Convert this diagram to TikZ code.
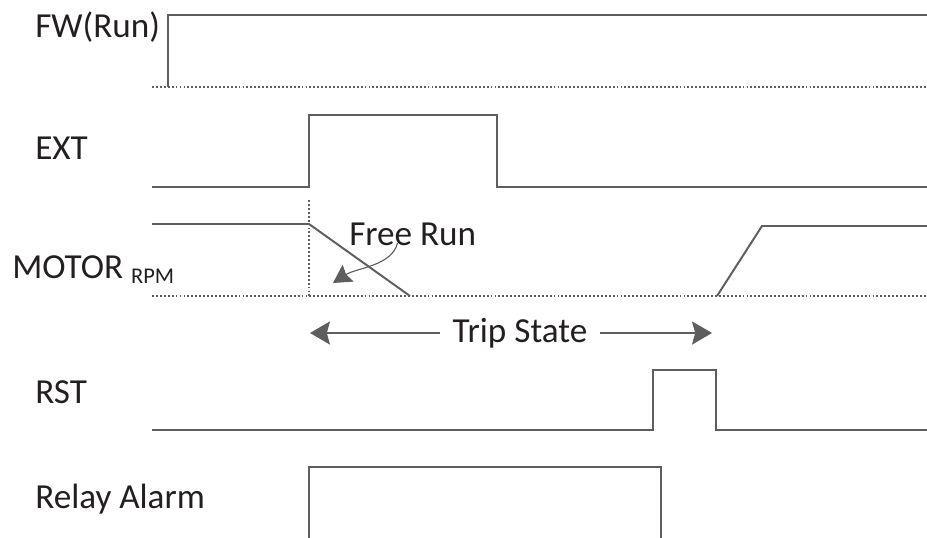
\documentclass[tikz,border=0pt]{standalone}
\usepackage{fontspec}
\setmainfont{Carlito}
\usetikzlibrary{arrows.meta,positioning}
\definecolor{wave}{HTML}{5E5E5E}
\definecolor{ink}{HTML}{231F20}

\begin{document}
\begin{tikzpicture}[x=0.025cm, y=-0.025cm,
  sig/.style={wave, line width=1.4pt, line join=miter},
  base/.style={wave, line width=1.1pt, dash pattern=on 1.3pt off 1.5pt},
  lbl/.style={font=\fontsize{25}{30}\selectfont, text=ink, anchor=base west, inner sep=0pt},
  arr/.style={wave, line width=1pt, -{Stealth[length=0.5cm, width=0.58cm, inset=0.08cm]}},
  farr/.style={wave, line width=0.8pt, -{Stealth[length=0.45cm, width=0.5cm, inset=0.06cm]}}
]
  \useasboundingbox (0,0) rectangle (927,538);

  % Signal labels
  \node[lbl] (fwlbl) at (35,38) {FW(Run)};
  \node[lbl] (extlbl) at (35,160) {EXT};
  \node[lbl] (motorlbl) at (12,278) {MOTOR \raisebox{-0.125cm}{\fontsize{16}{19}\selectfont RPM}};
  \node[lbl] (rstlbl) at (35,403) {RST};
  \node[lbl] (relaylbl) at (35,508) {Relay Alarm};

  % FW(Run)
  \draw[base] (152,87) -- (927,87);
  \draw[sig] (168,87) -- (168,15) -- (927,15);

  % EXT
  \draw[sig] (152,187) -- (309,187) -- (309,115) -- (497,115) -- (497,187) -- (927,187);

  % Motor speed
  \draw[base] (152,296) -- (927,296);
  \draw[base] (309,200) -- (309,296);
  \draw[sig] (152,224) -- (309,224) -- (410,296);
  \draw[sig] (717,296) -- (762,226) -- (927,226);
  \node[lbl] (freerun) at (349,245) {Free Run};
  \coordinate (freetip) at (333,283);
  \draw[farr] ([xshift=-0.38cm, yshift=0.05cm]freerun.base) .. controls (392,266) and (356,268) .. (freetip);

  % Trip state span
  \node[font=\fontsize{25}{30}\selectfont, text=ink, inner xsep=0.3cm, inner ysep=0pt] (trip) at (520,333) {Trip State};
  \coordinate (tripL) at (310,333);
  \coordinate (tripR) at (712,333);
  \draw[arr] (trip.west) -- (tripL);
  \draw[arr] (trip.east) -- (tripR);

  % RST
  \draw[sig] (152,430) -- (653,430) -- (653,370) -- (716,370) -- (716,430) -- (927,430);

  % Relay alarm
  \draw[sig] (309,540) -- (309,467) -- (661,467) -- (661,540);
\end{tikzpicture}
\end{document}
